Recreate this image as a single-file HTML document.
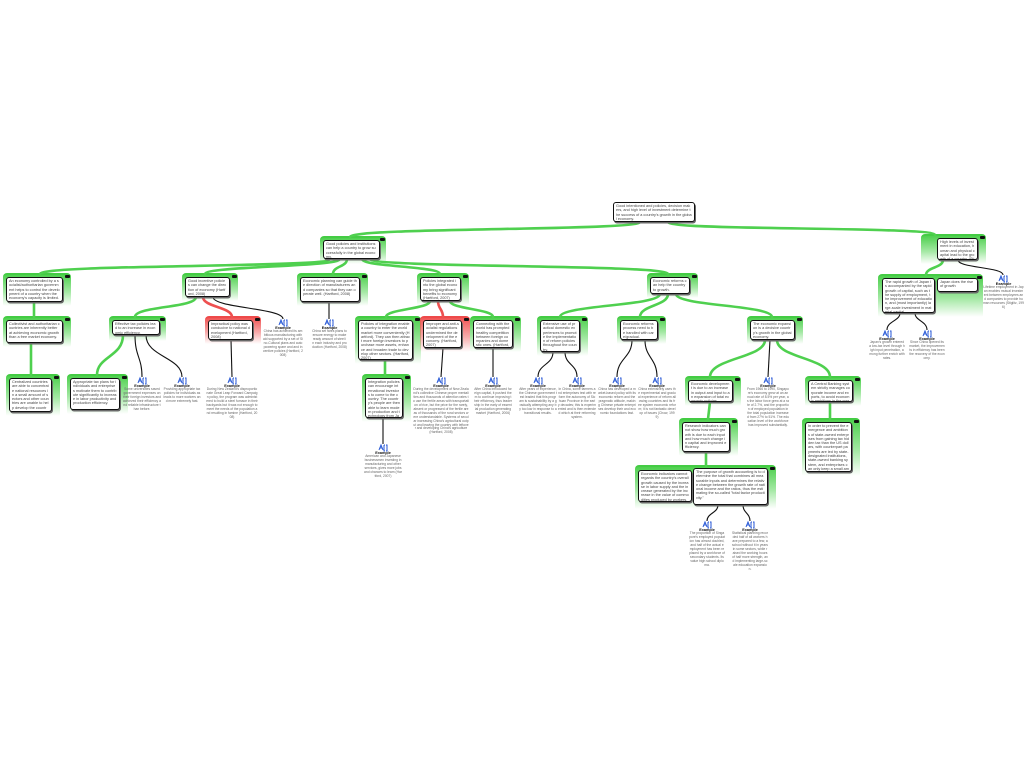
<!DOCTYPE html>
<html><head><meta charset="utf-8"><style>
html,body{margin:0;padding:0;background:#fff;}
body{width:1024px;height:768px;position:relative;overflow:hidden;font-family:"Liberation Sans",Arial,sans-serif;}
.g,.r{position:absolute;border-radius:4px 4px 2px 2px;z-index:1;box-sizing:border-box;}
.g{background:linear-gradient(#4fd04f 0%,rgba(90,214,90,.55) 55%,rgba(255,255,255,0) 100%);border-top:2px solid #44cc44;}
.r{background:linear-gradient(#f05656 0%,rgba(240,100,100,.55) 55%,rgba(255,255,255,0) 100%);border-top:2px solid #ee4a4a;}
.g i,.r i{position:absolute;right:1px;top:0px;width:5px;height:3px;background:#111;border-radius:1px;}
.b{position:absolute;z-index:3;background:#fff;border:1px solid #111;border-radius:3px;box-shadow:1px 1.5px 0 #6a6a6a;font-size:3.8px;line-height:4.3px;color:#444;padding:1px 2px;word-break:break-all;overflow:hidden;box-sizing:border-box;}
svg{position:absolute;left:0;top:0;z-index:2;}
.ex{position:absolute;z-index:3;text-align:center;font-size:3.3px;line-height:3.9px;color:#666;word-break:break-all;}
.ex b{display:block;color:#111;font-size:3.8px;line-height:4.4px;}
</style></head><body>

<!-- wrappers -->
<div class="g" style="left:320px;top:236px;width:66px;height:28px"><i></i></div>
<div class="g" style="left:3px;top:273px;width:68px;height:33px"><i></i></div>
<div class="g" style="left:3px;top:316px;width:68px;height:31px"><i></i></div>
<div class="g" style="left:6px;top:374px;width:54px;height:42px"><i></i></div>
<div class="g" style="left:182px;top:273px;width:56px;height:28px"><i></i></div>
<div class="g" style="left:109px;top:316px;width:57px;height:25px"><i></i></div>
<div class="g" style="left:67px;top:374px;width:61px;height:40px"><i></i></div>
<div class="r" style="left:205px;top:316px;width:56px;height:28px"><i></i></div>
<div class="g" style="left:297px;top:273px;width:71px;height:33px"><i></i></div>
<div class="g" style="left:417px;top:273px;width:52px;height:32px"><i></i></div>
<div class="g" style="left:355px;top:316px;width:66px;height:48px"><i></i></div>
<div class="r" style="left:420px;top:316px;width:50px;height:36px"><i></i></div>
<div class="g" style="left:470px;top:316px;width:51px;height:36px"><i></i></div>
<div class="g" style="left:362px;top:374px;width:49px;height:48px"><i></i></div>
<div class="g" style="left:647px;top:273px;width:51px;height:25px"><i></i></div>
<div class="g" style="left:537px;top:316px;width:51px;height:40px"><i></i></div>
<div class="g" style="left:617px;top:316px;width:49px;height:28px"><i></i></div>
<div class="g" style="left:747px;top:316px;width:56px;height:28px"><i></i></div>
<div class="g" style="left:685px;top:376px;width:56px;height:30px"><i></i></div>
<div class="g" style="left:805px;top:376px;width:56px;height:30px"><i></i></div>
<div class="g" style="left:679px;top:418px;width:59px;height:38px"><i></i></div>
<div class="g" style="left:802px;top:418px;width:58px;height:58px"><i></i></div>
<div class="g" style="left:635px;top:465px;width:141px;height:44px"><i></i></div>
<div class="g" style="left:921px;top:234px;width:65px;height:30px"><i></i></div>
<div class="g" style="left:878px;top:274px;width:105px;height:43px"><i></i></div>

<svg width="1024" height="768" viewBox="0 0 1024 768">
<g fill="none" stroke="#4fd04f" stroke-width="2.6" stroke-linecap="round">
<path d="M640,222 C640,231 350,227 350,237"/>
<path d="M668,222 C668,231 935,226 935,235"/>
<path d="M330,259 C330,268 40,264 40,274"/>
<path d="M340,259 C340,267 205,266 205,274"/>
<path d="M347,259 C347,267 333,266 333,274"/>
<path d="M362,259 C362,267 440,266 440,274"/>
<path d="M370,259 C370,268 668,264 668,274"/>
<path d="M34,302 L34,317"/>
<path d="M31,343 L31,375"/>
<path d="M196,297 C196,308 135,306 135,317"/>
<path d="M123,335 C123,357 97,356 97,375"/>
<path d="M430,301 C430,309 386,309 386,317"/>
<path d="M450,301 C450,309 493,309 493,317"/>
<path d="M385,360 L385,375"/>
<path d="M660,294 C660,306 560,305 560,317"/>
<path d="M668,294 C668,306 640,305 640,317"/>
<path d="M676,294 C676,306 772,305 772,317"/>
<path d="M765,340 C765,358 710,358 710,377"/>
<path d="M777,340 C777,358 830,358 830,377"/>
<path d="M710,402 L708,419"/>
<path d="M830,402 L830,419"/>
<path d="M706,452 L706,466"/>
<path d="M943,260 C943,268 926,267 926,275"/>
</g>
<g fill="none" stroke="#ee5050" stroke-width="2.6" stroke-linecap="round">
<path d="M203,297 C203,307 232,307 232,317"/>
<path d="M438,301 C438,309 443,309 443,317"/>
</g>
<g fill="none" stroke="#111" stroke-width="1.1">
<path d="M213,297 C213,308 283,308 283,319"/>
<path d="M135,335 C135,357 142,357 142,377"/>
<path d="M146,335 C146,357 182,357 182,377"/>
<path d="M231,340 L232,377"/>
<path d="M329,302 L329,319"/>
<path d="M383,418 L383,444"/>
<path d="M443,348 L441,377"/>
<path d="M493,348 L493,377"/>
<path d="M553,352 C553,365 538,364 538,377"/>
<path d="M565,352 C565,365 577,364 577,377"/>
<path d="M632,340 C632,358 617,358 617,377"/>
<path d="M645,340 C645,358 657,358 657,377"/>
<path d="M770,340 L768,377"/>
<path d="M718,505 C718,513 707,513 707,521"/>
<path d="M743,505 C743,513 750,513 750,521"/>
<path d="M958,260 C958,268 1003,267 1003,275"/>
<path d="M900,313 C900,321 887,321 887,330"/>
<path d="M915,313 C915,321 927,321 927,330"/>
</g>
<g fill="none" stroke="#2456d6" stroke-width="1">
<path transform="translate(142,381)" d="M-4,2 l2,-5 l2,5 M-3,0 h2 M1,-3 h1 M1,-3 v6 h1 M3,-3 h1 v6 h-1"/>
<path transform="translate(182,381)" d="M-4,2 l2,-5 l2,5 M-3,0 h2 M1,-3 h1 M1,-3 v6 h1 M3,-3 h1 v6 h-1"/>
<path transform="translate(232,381)" d="M-4,2 l2,-5 l2,5 M-3,0 h2 M1,-3 h1 M1,-3 v6 h1 M3,-3 h1 v6 h-1"/>
<path transform="translate(283,323)" d="M-4,2 l2,-5 l2,5 M-3,0 h2 M1,-3 h1 M1,-3 v6 h1 M3,-3 h1 v6 h-1"/>
<path transform="translate(329,323)" d="M-4,2 l2,-5 l2,5 M-3,0 h2 M1,-3 h1 M1,-3 v6 h1 M3,-3 h1 v6 h-1"/>
<path transform="translate(441,381)" d="M-4,2 l2,-5 l2,5 M-3,0 h2 M1,-3 h1 M1,-3 v6 h1 M3,-3 h1 v6 h-1"/>
<path transform="translate(493,381)" d="M-4,2 l2,-5 l2,5 M-3,0 h2 M1,-3 h1 M1,-3 v6 h1 M3,-3 h1 v6 h-1"/>
<path transform="translate(383,448)" d="M-4,2 l2,-5 l2,5 M-3,0 h2 M1,-3 h1 M1,-3 v6 h1 M3,-3 h1 v6 h-1"/>
<path transform="translate(538,381)" d="M-4,2 l2,-5 l2,5 M-3,0 h2 M1,-3 h1 M1,-3 v6 h1 M3,-3 h1 v6 h-1"/>
<path transform="translate(577,381)" d="M-4,2 l2,-5 l2,5 M-3,0 h2 M1,-3 h1 M1,-3 v6 h1 M3,-3 h1 v6 h-1"/>
<path transform="translate(617,381)" d="M-4,2 l2,-5 l2,5 M-3,0 h2 M1,-3 h1 M1,-3 v6 h1 M3,-3 h1 v6 h-1"/>
<path transform="translate(657,381)" d="M-4,2 l2,-5 l2,5 M-3,0 h2 M1,-3 h1 M1,-3 v6 h1 M3,-3 h1 v6 h-1"/>
<path transform="translate(768,381)" d="M-4,2 l2,-5 l2,5 M-3,0 h2 M1,-3 h1 M1,-3 v6 h1 M3,-3 h1 v6 h-1"/>
<path transform="translate(707,525)" d="M-4,2 l2,-5 l2,5 M-3,0 h2 M1,-3 h1 M1,-3 v6 h1 M3,-3 h1 v6 h-1"/>
<path transform="translate(750,525)" d="M-4,2 l2,-5 l2,5 M-3,0 h2 M1,-3 h1 M1,-3 v6 h1 M3,-3 h1 v6 h-1"/>
<path transform="translate(1003,279)" d="M-4,2 l2,-5 l2,5 M-3,0 h2 M1,-3 h1 M1,-3 v6 h1 M3,-3 h1 v6 h-1"/>
<path transform="translate(887,334)" d="M-4,2 l2,-5 l2,5 M-3,0 h2 M1,-3 h1 M1,-3 v6 h1 M3,-3 h1 v6 h-1"/>
<path transform="translate(927,334)" d="M-4,2 l2,-5 l2,5 M-3,0 h2 M1,-3 h1 M1,-3 v6 h1 M3,-3 h1 v6 h-1"/>
</g>
</svg>

<!-- boxes -->
<div class="b" style="left:613px;top:202px;width:82px;height:20px">Good intentioned and policies, decision makers, and high level of investment determine the success of a country's growth in the global economy.</div>
<div class="b" style="left:323px;top:240px;width:57px;height:19px">Good policies and institutions can help a country to grow successfully in the global economy.</div>
<div class="b" style="left:6px;top:277px;width:57px;height:25px">An economy controlled by a socialist/authoritarian government helps to control the development of a country when the economy's capacity is limited.</div>
<div class="b" style="left:6px;top:320px;width:57px;height:23px">Collectivist and authoritarian countries are inherently better at achieving economic growth than a free market economy.</div>
<div class="b" style="left:9px;top:378px;width:43px;height:34px">Centralized countries are able to concentrate national resources in a small amount of sectors and other countries are unable to help develop the country.</div>
<div class="b" style="left:185px;top:277px;width:45px;height:20px">Good incentive policies can change the direction of economy (Hartford, 2008)</div>
<div class="b" style="left:112px;top:320px;width:48px;height:15px">Effective tax policies lead to an increase in economic efficiency.</div>
<div class="b" style="left:70px;top:378px;width:50px;height:32px">Appropriate tax plans for individuals and enterprises motivate them to contribute significantly to increase in labor productivity and production efficiency.</div>
<div class="b" style="left:208px;top:320px;width:45px;height:20px">Impractical policy was conducive to national development (Hartford, 2008)</div>
<div class="b" style="left:300px;top:277px;width:60px;height:25px">Economic planning can guide the direction of manufacturers and companies so that they can operate well. (Hartford, 2008)</div>
<div class="b" style="left:420px;top:277px;width:41px;height:24px">Policies integrated into the global economy bring significant benefits to economy (Hartford, 2007)</div>
<div class="b" style="left:358px;top:320px;width:55px;height:40px">Policies of integration enable a country to enter the world market more conveniently (Hartford). They can then attract more foreign investors to purchase more assets, enhance and broaden trade to develop other sectors. (Hartford, 2007)</div>
<div class="b" style="left:423px;top:320px;width:39px;height:28px">Improper and anti-socialist regulations undermined the development of the economy. (Hartford, 2007)</div>
<div class="b" style="left:473px;top:320px;width:40px;height:28px">Connecting with the world has prompted healthy competition between foreign companies and domestic ones. (Hartford, 2006)</div>
<div class="b" style="left:365px;top:378px;width:38px;height:40px">Integration policies can encourage international investors to come to the country. The country's people are then able to learn modern production and technology from Japan. (Hartford, 2007)</div>
<div class="b" style="left:650px;top:277px;width:40px;height:17px">Economic reforms can help the country to growth.</div>
<div class="b" style="left:540px;top:320px;width:40px;height:32px">Extensive use of practical domestic experiences to promote the implementation of reform policies throughout the country.</div>
<div class="b" style="left:620px;top:320px;width:38px;height:20px">Economic reforms process need to be handled with care/gradual.</div>
<div class="b" style="left:750px;top:320px;width:45px;height:20px">The economic expansion is a decisive country's growth in the global economy.</div>
<div class="b" style="left:688px;top:380px;width:45px;height:22px">Economic development is due to an increase in output and input to an expansion of total economic policies.</div>
<div class="b" style="left:808px;top:380px;width:45px;height:22px">A Central Banking system strictly manages corporate income and exports, to avoid economic ambitions in the market.</div>
<div class="b" style="left:682px;top:422px;width:48px;height:30px">Research indicators can not show how much growth is due to each input and how much change in capital and improved efficiency.</div>
<div class="b" style="left:805px;top:422px;width:47px;height:50px">In order to prevent the emergence and ambitions of state-owned enterprises from gaining tax hidden tax than the US dollars, with counterpart payments are led by state-designated institutions, state-owned banking system, and enterprises can only keep a small amount of cash.</div>
<div class="b" style="left:638px;top:470px;width:54px;height:32px">Economic indicators cannot regards the country's overall growth caused by the increase in labor supply and the increase generated by the increase in the value of commodities produced by workers.</div>
<div class="b" style="left:693px;top:468px;width:75px;height:37px">The purpose of growth accounting is to determine the total that combines all measurable inputs and determines the relative change between the growth rate of national income and the ratios, thus the estimating the so-called "total factor productivity."</div>
<div class="b" style="left:937px;top:238px;width:41px;height:22px">High levels of investment in education, human and physical capital lead to the growth of a country. (Stiglitz, 1991)</div>
<div class="b" style="left:882px;top:278px;width:53px;height:35px">The rapid growth of Japan is accompanied by the rapid growth of capital, such as the supply of employment, the improvement of education, and (most importantly) large-scale investment in material capital.</div>
<div class="b" style="left:937px;top:278px;width:41px;height:14px">Japan does the rise of growth</div>

<!-- examples -->
<div class="ex" style="left:123px;top:384px;width:38px"><b>Example</b>Some universities saved government expenses on their foreign investors and achieved their efficiency and reliable infrastructure than before.</div>
<div class="ex" style="left:163px;top:384px;width:38px"><b>Example</b>Providing appropriate tax policies for individuals as leads to more workers and more extremely fast.</div>
<div class="ex" style="left:206px;top:384px;width:52px"><b>Example</b>During New Zealand's disproportionate Great Leap Forward Campaign policy, the program was administered to build a steel furnace in their backyards but it was not enough to meet the needs of the population and resulting in famine (Hartford, 2008)</div>
<div class="ex" style="left:263px;top:326px;width:40px"><b>Example</b>China has achieved its ambitious manufacturing with aid supported by a set of Sino-Cultural plans and auto powering spare and and incentive policies (Hartford, 2008)</div>
<div class="ex" style="left:312px;top:326px;width:35px"><b>Example</b>China set fares plans to ensure energy to make ready amount of steel in each industry and production (Hartford, 2008)</div>
<div class="ex" style="left:413px;top:384px;width:56px"><b>Example</b>During the development of New Zealand's collective Chinese proper mentalities and thousands of attention rates to use the fertile areas with transportation of rice, but the price for the rarely, absent or progressed of the fertile areas of thousands of the rural sectors were understandable. Systems of secular increasing China's agricultural output and leaving the country with leftover and developing China's agriculture (Hartford, 2008)</div>
<div class="ex" style="left:474px;top:384px;width:38px"><b>Example</b>After China introduced foreign capital, it pushed them to continue improving their efficiency, thus leadership in the early of essential production generating market (Hartford, 2006)</div>
<div class="ex" style="left:364px;top:451px;width:38px"><b>Example</b>American and Japanese businessmen investing in manufacturing and other services, gives more jobs and chances to learn (Hartford, 2007)</div>
<div class="ex" style="left:519px;top:384px;width:38px"><b>Example</b>After years of experience, the Chinese government test leaded that this program is sustainability by a gradually attempting any by too low in response to a transitional results.</div>
<div class="ex" style="left:558px;top:384px;width:38px"><b>Example</b>In China, some farmers and enterprises test with reform the autonomy of Sichuan Province in the early decades; this is experimented and is then extended which at their reforming system.</div>
<div class="ex" style="left:598px;top:384px;width:38px"><b>Example</b>China has developed a market-based policy with its economic reform and the pragmatic attitude, making Chinese private enterprises develop their and economic foundations fast.</div>
<div class="ex" style="left:638px;top:384px;width:38px"><b>Example</b>China extensively uses the experimental and gradual experience of reform allowing countries and its free system economic reform; it is not fantastic develop of issues (Chow, 1999)</div>
<div class="ex" style="left:747px;top:384px;width:42px"><b>Example</b>From 1966 to 1990, Singapore's economy grew at an annual rate of 8.5% per year, as the labor force grew at a rate of 2.7%, and the proportion of employed population in the total population increased from 27% to 51%. The education level of the workforce has improved substantially.</div>
<div class="ex" style="left:689px;top:528px;width:36px"><b>Example</b>The proportion of Singapore's employed population has almost doubled, and half of the actual employment has been replaced by a workforce of secondary students. Its value high school diploma.</div>
<div class="ex" style="left:732px;top:528px;width:36px"><b>Example</b>Statistical planning recorded half of all workers have prepared to a few, a school without it in years in some sectors, while raised the working hours of half more strength, and implementing large-scale education expansion.</div>
<div class="ex" style="left:983px;top:282px;width:41px"><b>Example</b>Lifetime employment in Japan enables mutual investment between employees and companies to provide human resources (Stiglitz, 1996)</div>
<div class="ex" style="left:869px;top:337px;width:36px"><b>Example</b>Japan's growth entered a low-tax level through high input penetration, among further enrich with rates.</div>
<div class="ex" style="left:909px;top:337px;width:36px"><b>Example</b>Since China opened its market, the improvements in efficiency has been the recovery of the economy.</div>

</body></html>
